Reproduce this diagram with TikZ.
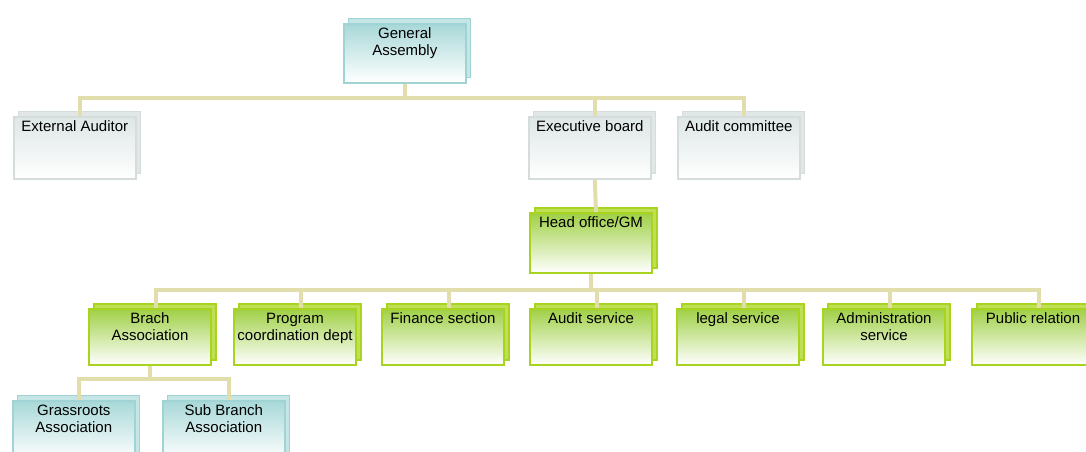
\documentclass[tikz,border=0pt]{standalone}
\usepackage{fontspec}
\setmainfont{Liberation Sans}
\usetikzlibrary{shadows}
\definecolor{conncol}{RGB}{225,222,172}
\definecolor{gborder}{RGB}{168,212,30}
\definecolor{gtop}{RGB}{160,208,70}
\definecolor{tborder}{RGB}{160,212,212}
\definecolor{ttop}{RGB}{168,216,216}
\definecolor{sborder}{RGB}{212,220,220}
\definecolor{stop}{RGB}{222,230,230}
\newcommand{\bt}[2][56]{\parbox[c][#1pt][t]{122pt}{\centering\vspace*{4pt}#2\par}}
\tikzset{
  basebox/.style={rectangle, inner sep=0pt, anchor=north west,
    font=\fontsize{15}{17}\selectfont, text=black},
  greenbox/.style={basebox, draw=gborder, line width=2pt,
    top color=gtop, middle color=gtop!45!white, bottom color=white,
    general shadow={shadow xshift=5pt, shadow yshift=5pt, fill=gborder!75!white, draw=gborder, line width=1.2pt}},
  tealbox/.style={basebox, draw=tborder, line width=1.6pt,
    top color=ttop, middle color=ttop!45!white, bottom color=white,
    general shadow={shadow xshift=5pt, shadow yshift=5pt, fill=tborder!60!white, draw=tborder, line width=1pt}},
  greybox/.style={basebox, draw=sborder, line width=1.6pt,
    top color=stop, middle color=stop!50!white, bottom color=white,
    general shadow={shadow xshift=5pt, shadow yshift=5pt, fill=sborder!70!white, draw=sborder, line width=1pt}},
  conn/.style={draw=conncol, line width=4pt, line join=miter}
}
\begin{document}
\begin{tikzpicture}[x=1pt, y=-1pt]
\useasboundingbox (0,0) rectangle (1086,452);
\clip (0,0) rectangle (1086,452);
% level 0
\node[tealbox] (ga) at (343,23) {\bt[59]{General\\Assembly}};
% level 1
\node[greybox] (ext) at (13,116) {\bt[62]{External Auditor}};
\node[greybox] (exe) at (528,116) {\bt[62]{Executive board}};
\node[greybox] (aud) at (677,116) {\bt[62]{Audit committee}};
% head office
\node[greenbox] (ho) at (529,212) {\bt[60]{Head office/GM}};
% level 2
\node[greenbox] (br) at (88,308) {\bt{Brach\\Association}};
\node[greenbox] (pg) at (233,308) {\bt{Program\\coordination dept}};
\node[greenbox] (fi) at (381,308) {\bt{Finance section}};
\node[greenbox] (as) at (529,308) {\bt{Audit service}};
\node[greenbox] (lg) at (676,308) {\bt{legal service}};
\node[greenbox] (ad) at (822,308) {\bt{Administration\\service}};
\node[greenbox] (pr) at (971,308) {\bt{Public relation}};
% level 3
\node[tealbox] (gr) at (12,400) {\bt[59]{Grassroots\\Association}};
\node[tealbox] (sb) at (162,400) {\bt[59]{Sub Branch\\Association}};
% connectors
\draw[conn] (ga.south) -- ++(0,14) -| ([xshift=5pt]ext.north);
\draw[conn] (ga.south) -- ++(0,14) -| ([xshift=5pt]exe.north);
\draw[conn] (ga.south) -- ++(0,14) -| ([xshift=5pt]aud.north);
\draw[conn] ([xshift=5pt]exe.south) -- ([xshift=5pt]ho.north);
\foreach \t in {br,pg,fi,as,lg,ad,pr}{
  \draw[conn] (ho.south) -- ++(0,16) -| ([xshift=6pt]\t.north);
}
\draw[conn] (br.south) -- ++(0,13) -| ([xshift=5pt]gr.north);
\draw[conn] (br.south) -- ++(0,13) -| ([xshift=5pt]sb.north);
\end{tikzpicture}
\end{document}
